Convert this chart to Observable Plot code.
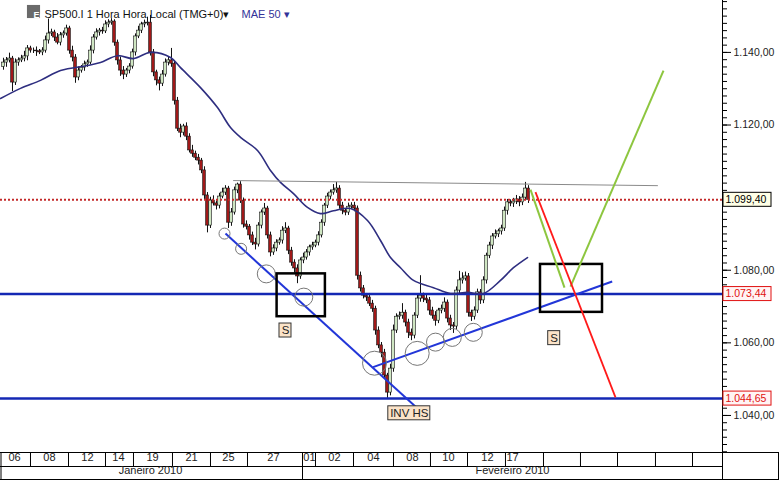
<!DOCTYPE html>
<html><head><meta charset="utf-8">
<script src="https://cdn.jsdelivr.net/npm/d3@7"></script>
<script src="https://cdn.jsdelivr.net/npm/@observablehq/plot@0.6"></script>
<style>
html,body{margin:0;padding:0;background:#fff;}
#chart svg{display:block;}
</style></head><body><div id="chart"></div>
<script>
// ---- hourly candles (bar index = position in arrays) ----
const firstOpen = 1136.0;
const closes = [
1137.2,1137.8,1138.3,1131.7,1137.2,1137.8,1138.3,1138.9,1141.1,1140.5,
1140.5,1140.3,1140.0,1140.5,1143.3,1145.2,1145.5,1144.1,1142.7,1144.7,
1145.2,1146.6,1140.5,1138.6,1133.1,1135.0,1135.8,1136.7,1137.2,1140.5,
1144.1,1145.5,1146.0,1145.8,1147.7,1148.2,1148.5,1142.7,1137.8,1135.0,
1133.9,1135.0,1136.1,1140.0,1144.4,1146.0,1147.7,1148.0,1148.2,1140.0,
1134.5,1132.3,1131.4,1133.9,1137.2,1137.8,1136.9,1126.7,1119.0,1117.9,
1119.6,1116.8,1113.0,1112.1,1111.0,1110.2,1107.5,1100.6,1092.3,1099.2,
1098.4,1097.8,1100.3,1101.4,1102.5,1093.1,1095.9,1102.0,1103.6,1099.2,
1092.6,1092.0,1089.6,1087.6,1087.1,1092.3,1095.9,1097.0,1089.6,1084.9,
1086.0,1087.6,1088.2,1090.9,1091.5,1085.4,1082.1,1080.5,1078.3,1082.7,
1083.5,1084.9,1086.3,1086.8,1087.6,1089.6,1093.1,1097.8,1100.3,1101.4,
1102.0,1102.5,1097.8,1096.4,1095.9,1097.5,1097.8,1097.0,1078.5,1075.0,
1073.0,1072.5,1070.8,1069.4,1063.4,1059.3,1057.3,1051.0,1046.3,1052.9,
1063.4,1067.2,1067.5,1068.3,1065.6,1062.8,1062.0,1067.5,1072.2,1073.0,
1072.2,1071.7,1068.9,1067.5,1066.1,1068.9,1069.4,1071.1,1066.7,1064.8,
1064.5,1074.4,1077.2,1077.7,1078.3,1068.3,1067.2,1068.9,1073.9,1071.7,
1077.2,1084.0,1086.8,1089.3,1089.9,1090.7,1091.5,1096.4,1098.7,1098.4,
1098.9,1099.5,1098.7,1100.0,1102.5,1099.4];
const wickUp = [
1.2,0.8,1.5,0.6,1.0,0.7,0.9,1.4,0.8,0.6,
0.7,1.0,0.5,0.8,1.2,4.0,0.9,0.6,1.1,0.8,
0.7,0.9,0.6,1.2,0.8,1.0,0.6,0.9,0.7,1.3,
0.8,1.0,0.6,0.9,1.0,0.8,0.8,0.5,0.7,0.9,
1.1,0.6,0.8,0.9,0.7,1.2,0.6,0.9,1.5,2.0,
0.8,0.6,0.9,1.1,1.0,0.8,3.3,0.7,0.9,1.2,
0.6,1.0,0.8,1.4,0.7,0.9,0.6,1.0,0.8,0.9,
1.3,0.7,0.9,1.2,0.8,0.6,1.1,0.9,0.4,0.8,
0.7,1.0,0.6,0.9,1.2,0.8,0.7,1.4,0.6,0.9,
1.0,0.8,0.7,1.1,1.6,0.6,0.9,0.8,1.0,0.7,
1.2,0.8,0.6,0.9,0.7,1.0,0.8,0.6,0.9,0.7,
1.6,1.7,0.8,0.9,0.6,1.0,0.8,0.9,0.7,1.0,
0.8,0.6,1.1,0.9,0.7,1.0,0.8,0.9,0.6,1.2,
1.5,0.8,1.0,2.5,0.7,0.9,1.0,0.8,0.9,5.5,
0.7,1.0,0.8,0.9,1.1,0.6,1.0,1.3,0.7,0.9,
0.8,1.0,2.5,1.6,1.2,0.8,0.7,1.0,0.9,0.8,
1.0,0.7,0.9,0.8,1.2,0.6,0.9,1.0,0.8,0.7,
0.9,1.1,0.8,1.0,1.7,0.8];
const wickDn = [
0.9,1.3,0.7,2.5,0.8,1.0,0.6,0.9,1.2,0.7,
0.8,1.4,0.6,0.9,0.7,1.0,0.8,1.1,0.6,0.9,
0.8,0.7,1.0,1.2,1.6,0.9,0.7,1.0,0.8,0.6,
0.9,0.7,1.0,0.8,0.6,0.9,0.7,1.0,1.3,1.6,
1.4,0.8,0.9,0.7,1.0,0.6,0.8,0.9,0.7,1.0,
1.2,1.5,2.0,0.8,0.7,0.9,1.0,1.2,0.8,1.4,
0.9,1.1,0.7,1.0,0.8,1.2,0.9,1.1,2.0,0.8,
0.7,1.2,0.9,0.6,0.8,1.6,1.0,0.7,0.9,0.8,
1.0,0.9,1.3,0.8,1.5,0.7,0.9,0.8,1.0,1.2,
0.8,0.9,0.7,1.0,0.8,1.1,1.0,1.3,2.0,0.8,
0.9,0.7,1.0,0.8,0.6,0.9,0.7,1.0,0.8,0.9,
0.7,0.8,1.0,1.1,0.9,0.8,0.7,0.9,1.2,1.0,
0.9,1.1,0.8,1.0,1.3,0.9,1.4,1.0,1.6,0.9,
1.0,0.8,0.9,1.0,1.2,1.6,1.4,0.9,0.8,1.0,
1.1,0.9,1.3,1.0,1.5,0.8,0.9,1.0,1.2,1.4,
1.9,0.8,0.9,1.0,0.7,1.2,1.3,0.9,0.8,1.1,
0.9,1.0,0.8,1.1,0.7,0.9,1.0,0.8,1.2,0.9,
1.1,0.8,1.2,0.9,0.8,1.0];

// ---- MAE 50 ----
const maBar = [-1,5.67,12.33,19,28,32.33,38,43.33,49,55.67,59,65.67,71.33,75.67,79,84.67,89,92.33,96.67,101.33,105.67,110,115.67,121.33,125.67,129,132.33,136.67,143.33,149,154.67,160,165.67,170,174.67];
const maVal = [1127.3,1130.1,1132.3,1135.0,1136.4,1137.2,1139.1,1138.3,1140.0,1138.6,1135.8,1130.3,1124.8,1119.3,1116.6,1113.0,1107.5,1104.2,1101.1,1097.3,1095.6,1096.4,1097.0,1093.7,1088.2,1083.5,1080.7,1077.2,1075.2,1073.6,1073.9,1073.6,1077.2,1080.7,1083.5];

// ---- levels ----
const lastPrice = 1099.40;
const supportLevels = [1073.44, 1044.65];

// ---- drawn annotations (data coordinates: bar, price) ----
const neckline = [{b:76.67, p:1104.7}, {b:218, p:1103.3}];
const blueTrends = [
  {b1:74, p1:1090.1, b2:137.67, p2:1042.2},
  {b1:123.2, p1:1053.3, b2:202.9, p2:1076.9}];
const greenProj = [
  {b1:175.67, p1:1102.2, b2:187, p2:1075.2},
  {b1:189, p1:1075.5, b2:220, p2:1135.0}];
const redProj = [{b1:177.33, p1:1101.5, b2:204, p2:1045.0}];
const circlesSmall = [{b:73.67, p:1090.1}, {b:79.2, p:1085.9}];
const circlesMid = [{b:87.6, p:1079.0}, {b:100.1, p:1072.6}, {b:144, p:1060.2}, {b:149.6, p:1061.5}, {b:156.6, p:1062.9}];
const circlesLarge = [{b:123.67, p:1054.4}, {b:137.9, p:1057.1}];
const boxes = [{b1:91.2, b2:107.3, p1:1079.0, p2:1067.2}, {b1:179, b2:199.67, p1:1081.6, p2:1068.4}];
const sLabels = [{b:94, p:1063.4, t:"S"}, {b:183.57, p:1061.3, t:"S"}];
const invLabel = [{b:135.27, p:1040.6, t:"INV HS"}];

// ---- axes ----
const majorTicks = [1040, 1060, 1080, 1100, 1120, 1140];
const labelledTicks = [1040, 1060, 1080, 1120, 1140];
const dayStarts = [9, 21.67, 34, 43.33, 56.33, 69, 81.33, 99.67, 104, 116.67, 130, 142.33, 154.67, 167.33, 180, 192.33, 204.67, 217.33, 229.67];
const dayLabels = ["06","08","12","14","19","21","25","27","01","02","04","08","10","12","17"];
const dayLabelBars = [3.67, 15.33, 28, 38.33, 49.67, 62.67, 75, 90, 102, 110.33, 123.33, 136.33, 148.33, 161.33, 169.67];
const monthLabels = ["Janeiro 2010", "Fevereiro 2010"];
const monthLabelBars = [49, 169.67];
const monthStarts = [99.67];

const X_MIN = -1, X_MAX = 239.67;
const Y_MIN = 1029.8, Y_MAX = 1154.3;

const bars = closes.map((c, i) => {
  const o = i === 0 ? firstOpen : closes[i - 1];
  return {i, o, c, h: Math.max(o, c) + wickUp[i], l: Math.min(o, c) - wickDn[i]};
});
const ma = maBar.map((b, k) => ({b, p: maVal[k]}));
const priceTags = [
  {v: lastPrice, fill: "#ffffe6", stroke: "#000", color: "#000"},
  {v: supportLevels[0], fill: "#fff4f4", stroke: "#e01010", color: "#e01010"},
  {v: supportLevels[1], fill: "#fff4f4", stroke: "#e01010", color: "#e01010"}];
const days = dayLabels.map((t, k) => ({t, b: dayLabelBars[k]}));
const months = monthLabels.map((t, k) => ({t, b: monthLabelBars[k]}));

const fmt = d3.formatLocale({decimal: ",", thousands: ".", grouping: [3], currency: ["", ""]}).format(",.2f");
const FONT = "'Liberation Sans', Arial, sans-serif";

const chart = Plot.plot({
  width: 779, height: 481,
  marginTop: 0, marginLeft: 0, marginRight: 57, marginBottom: 29,
  x: {domain: [X_MIN, X_MAX], axis: null},
  y: {domain: [Y_MIN, Y_MAX], axis: null},
  color: {type: "identity"},
  style: {fontFamily: FONT, background: "#fff", overflow: "visible"},
  marks: [
    // candles
    Plot.ruleX(bars, {x: "i", y1: "l", y2: "h", stroke: "#111", strokeWidth: 1}),
    Plot.rect(bars, {x1: d => d.i - 0.45, x2: d => d.i + 0.45, y1: "o", y2: "c",
      fill: d => d.c >= d.o ? "#cfe6c2" : "#a01818", stroke: "#111", strokeWidth: 0.6}),
    // levels
    Plot.ruleY([lastPrice], {stroke: "#c42a2a", strokeWidth: 2, strokeDasharray: "2,2"}),
    Plot.ruleY(supportLevels, {stroke: "#1428b4", strokeWidth: 2.5}),
    // moving average
    Plot.line(ma, {x: "b", y: "p", stroke: "#2e2e80", strokeWidth: 1.6, curve: "catmull-rom"}),
    // neckline
    Plot.line(neckline, {x: "b", y: "p", stroke: "#8a8a8a", strokeWidth: 1}),
    // trendlines
    Plot.link(blueTrends, {x1: "b1", y1: "p1", x2: "b2", y2: "p2", stroke: "#2236d8", strokeWidth: 2}),
    // circles
    Plot.dot(circlesSmall, {x: "b", y: "p", r: 5.5, stroke: "#777", fill: "none", strokeWidth: 1}),
    Plot.dot(circlesMid, {x: "b", y: "p", r: 9, stroke: "#777", fill: "none", strokeWidth: 1}),
    Plot.dot(circlesLarge, {x: "b", y: "p", r: 12, stroke: "#777", fill: "none", strokeWidth: 1}),
    // boxes
    Plot.rect(boxes, {x1: "b1", x2: "b2", y1: "p1", y2: "p2", fill: "none", stroke: "#000", strokeWidth: 2.5}),
    // projections
    Plot.link(greenProj, {x1: "b1", y1: "p1", x2: "b2", y2: "p2", stroke: "#8dc63f", strokeWidth: 2}),
    Plot.link(redProj, {x1: "b1", y1: "p1", x2: "b2", y2: "p2", stroke: "#ff1a1a", strokeWidth: 1.8}),
    // annotation labels
    Plot.rect(sLabels, {x1: "b", x2: "b", y1: "p", y2: "p", insetLeft: -6, insetRight: -6, insetTop: -7, insetBottom: -7, fill: "#fbe3c8", stroke: "#333", strokeWidth: 1}),
    Plot.rect(invLabel, {x1: "b", x2: "b", y1: "p", y2: "p", insetLeft: -21, insetRight: -21, insetTop: -7, insetBottom: -7, fill: "#fbe3c8", stroke: "#333", strokeWidth: 1}),
    Plot.text(sLabels.concat(invLabel), {x: "b", y: "p", text: "t", fontSize: 11.5, fill: "#222"}),
    // right axis
    Plot.axisY(d3.range(1030, 1155, 2), {anchor: "right", tickSize: 4, tickFormat: () => "", color: "#000"}),
    Plot.axisY(majorTicks, {anchor: "right", tickSize: 8, tickFormat: () => "", color: "#000"}),
    Plot.axisY(labelledTicks, {anchor: "right", tickSize: 0, tickPadding: 11, tickFormat: fmt, fontSize: 10.5, color: "#222"}),
    Plot.ruleX([X_MAX], {stroke: "#000", strokeWidth: 1, insetBottom: -27}),
    Plot.rect(priceTags, {x1: () => X_MAX, x2: () => X_MAX, y1: "v", y2: "v", insetLeft: 1, insetRight: -49, insetTop: -7, insetBottom: -7, fill: "fill", stroke: "stroke", strokeWidth: 1}),
    Plot.text(priceTags, {x: () => X_MAX, y: "v", text: d => fmt(d.v), dx: 3, textAnchor: "start", fill: "color", fontSize: 10.5}),
    // bottom date table
    Plot.ruleY([Y_MIN], {stroke: "#000", strokeWidth: 1, insetRight: -57}),
    Plot.ruleY([Y_MIN], {stroke: "#000", strokeWidth: 1, dy: 14}),
    Plot.ruleY([Y_MIN], {stroke: "#000", strokeWidth: 1, dy: 27, insetRight: -57}),
    Plot.ruleX(dayStarts, {stroke: "#000", strokeWidth: 1, insetTop: 452, insetBottom: -14}),
    Plot.ruleX(monthStarts, {stroke: "#000", strokeWidth: 1, insetTop: 452, insetBottom: -27}),
    Plot.ruleX([X_MIN], {stroke: "#000", strokeWidth: 1, dx: 0.5, insetTop: 452, insetBottom: -27}),
    Plot.ruleX([X_MAX], {stroke: "#000", strokeWidth: 1, dx: 56, insetTop: 452, insetBottom: -27}),
    Plot.text(days, {x: "b", text: "t", frameAnchor: "bottom", dy: 8, fontSize: 11, fill: "#222"}),
    Plot.text(months, {x: "b", text: "t", frameAnchor: "bottom", dy: 21, fontSize: 11, fill: "#222"}),
    // header
    Plot.dot([0], {frameAnchor: "top-left", dx: 33, dy: 11, symbol: "square", r: 7.4, fill: "#6a6a6a"}),
    Plot.text(["Eq"], {text: d => d, frameAnchor: "top-left", dx: 33, dy: 11, fill: "#fff", fontSize: 9, fontWeight: "bold"}),
    Plot.text(["SP500.I 1 Hora Hora Local (TMG+0)\u25BE"], {text: d => d, frameAnchor: "top-left", dx: 44, dy: 10, textAnchor: "start", fontSize: 11, fill: "#111"}),
    Plot.text(["MAE 50 \u25BE"], {text: d => d, frameAnchor: "top-left", dx: 241, dy: 10, textAnchor: "start", fontSize: 11, fill: "#333399"})
  ]
});
document.getElementById("chart").appendChild(chart);
</script>
</body></html>
